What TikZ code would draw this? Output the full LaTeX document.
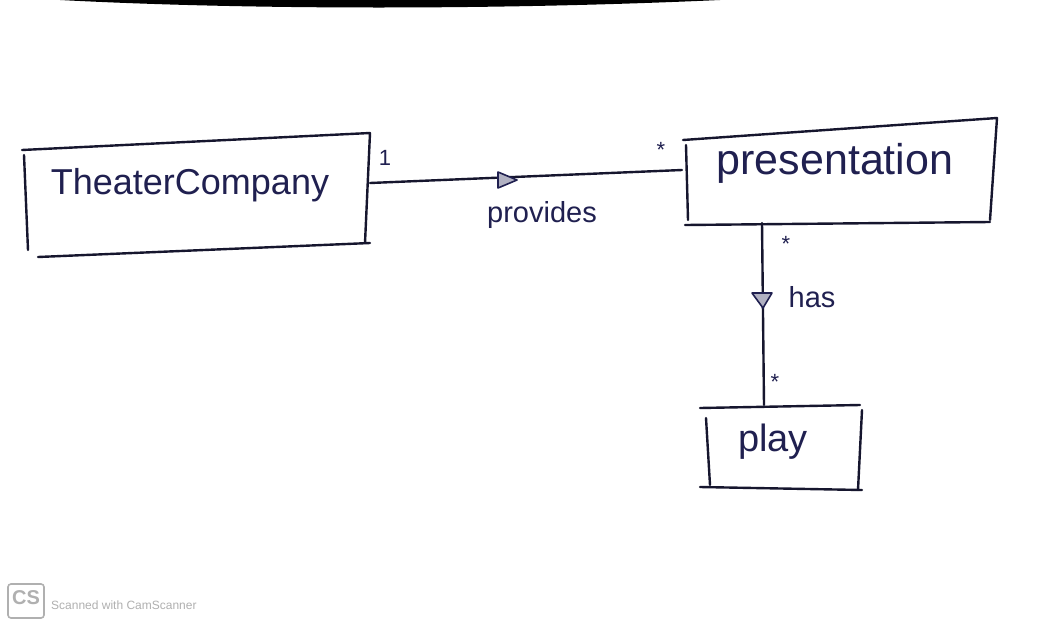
\documentclass[tikz,border=0pt]{standalone}
\usepackage{fontspec}
\setmainfont{Liberation Sans}
\definecolor{ink}{HTML}{16162E}
\definecolor{pen}{HTML}{202050}
\definecolor{logo}{HTML}{B0B0B0}
\begin{document}
\begin{tikzpicture}[x=1pt,y=-1pt,
  stroke/.style={draw=ink,line width=2.4pt,line cap=round},
  hand/.style={text=pen,inner sep=0pt},
  mult/.style={text=pen,inner sep=0pt,font=\fontsize{22}{22}\selectfont},
  tri/.style={draw=pen,fill=pen!35,line width=1.6pt,line join=round}]
\useasboundingbox (0,0) rectangle (1060,627);
\fill[white] (0,0) rectangle (1060,627);
% scan edge at top
\fill[black] (60,0) .. controls (250,10) and (500,10) .. (720,0) -- cycle;
% TheaterCompany box
\draw[stroke] (24,155) -- (28,250);
\draw[stroke] (22,150) -- (370,133);
\draw[stroke] (370,133) -- (365,243);
\draw[stroke] (38,257) -- (370,243);
\node[hand,font=\fontsize{36}{36}\selectfont] (tc) at (190,185) {TheaterCompany};
\coordinate (tcR) at (370,183);
% presentation box
\draw[stroke] (686,145) -- (688,220);
\draw[stroke] (683,140) -- (997,118);
\draw[stroke] (997,118) -- (990,220);
\draw[stroke] (685,225) -- (990,222);
\node[hand,font=\fontsize{43}{43}\selectfont] (pr) at (835,163) {presentation};
\coordinate (prL) at (682,170);
\coordinate (prB) at (762,223);
% play box
\draw[stroke] (700,408) -- (860,405);
\draw[stroke] (706,418) -- (710,485);
\draw[stroke] (862,410) -- (858,490);
\draw[stroke] (700,487) -- (862,490);
\node[hand,font=\fontsize{38}{38}\selectfont] (pl) at (773,442) {play};
\coordinate (plT) at (764,405);
% connectors
\draw[stroke] (tcR) -- (prL);
\draw[stroke] (prB) -- (plT);
% direction triangles
\draw[tri] (498,172) -- (517,180) -- (498,188) -- cycle;
\draw[tri] (752,293) -- (772,293) -- (763,308) -- cycle;
% labels
\node[hand,font=\fontsize{29}{29}\selectfont] (lp) at (542,215) {provides};
\node[hand,font=\fontsize{29}{29}\selectfont] (lh) at (812,297) {has};
\node[mult] (m1) at (385,158) {1};
\node[mult] (m2) at (661,150) {*};
\node[mult] (m3) at (786,244) {*};
\node[mult] (m4) at (775,382) {*};
% CamScanner mark
\draw[logo,line width=1.6pt,rounded corners=3pt] (8,584) rectangle (44,618);
\node[text=logo,inner sep=0pt,font=\bfseries\fontsize{20}{20}\selectfont] (cs) at (26,598) {CS};
\node[text=logo,anchor=west,inner sep=0pt,font=\fontsize{12}{12}\selectfont] (scan) at (51,605) {Scanned with CamScanner};
\end{tikzpicture}
\end{document}
